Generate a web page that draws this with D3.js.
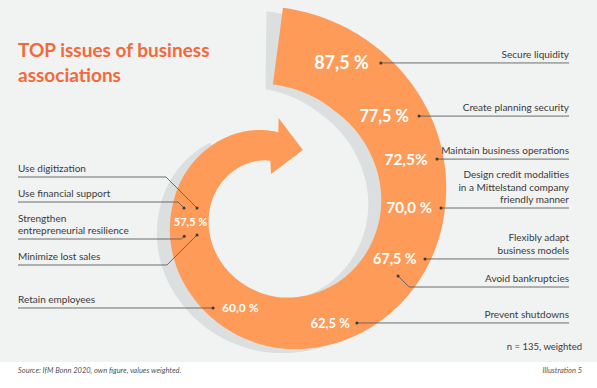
<!DOCTYPE html>
<html>
<head>
<meta charset="utf-8">
<script src="https://cdn.jsdelivr.net/npm/d3@7"></script>
<style>
  body { margin: 0; background: #fff; }
  text { font-family: Lato, "Open Sans", sans-serif; }
</style>
</head>
<body>
<script>
// issues in the order they sit along the spiral ("|" = line break)
var issues = [
  "Secure liquidity",
  "Create planning security",
  "Maintain business operations",
  "Design credit modalities|in a Mittelstand company|friendly manner",
  "Flexibly adapt|business models",
  "Avoid bankruptcies",
  "Prevent shutdowns",
  "Retain employees",
  "Use digitization",
  "Use financial support",
  "Strengthen|entrepreneurial resilience",
  "Minimize lost sales"
];
// share of associations naming the issue, in %
var shares = [87.5, 77.5, 72.5, 70.0, 67.5, 67.5, 62.5, 60.0, 57.5, 57.5, 57.5, 57.5];

var title = ["TOP issues of business", "associations"];
var note = "n = 135, weighted";
var source = "Source: IfM Bonn 2020, own figure, values weighted.";
var figNo = "Illustration 5";

// layout: where each leader line touches the spiral (degrees clockwise from 12 o'clock, radius)
var anchorAngle = [35.6, 57.1, 73, 90, 109, 119.3, 145.2, 212.6, 270, 270, 253, 251.4];
var anchorRadius = [178.4, 169.2, 167.3, 164, 156.5, 138.8, 140, 118.7, 80, 93, 97, 84.4];
// y of the label rule where it is not level with the anchor
var ruleY = [null, null, null, null, null, 287, null, null, 177, 202, 239, 265];

var width = 597, height = 388;
var svg = d3.select("body").append("svg")
    .attr("width", width)
    .attr("height", height);

svg.append("rect")
    .attr("width", width)
    .attr("height", 362)
    .attr("fill", "#f1f2f2");

// spiral geometry
var cx = 277, cy = 208;
var outerR = d3.scaleLinear()
    .domain([0, 45, 90, 135, 180, 225, 270, 315, 360])
    .range([201, 184, 168, 154, 140, 122, 105, 90, 76]);
var innerR = d3.scaleLinear()
    .domain([0, 30, 60, 90, 135, 180, 225, 270, 315, 360])
    .range([123, 113, 108, 104, 97, 89, 78, 67, 56, 46]);

function pt(theta, r) {
  var a = theta * Math.PI / 180;
  return [cx + r * Math.sin(a), cy - r * Math.cos(a)];
}

function spiral(o0, i0, o1, i1, arrow) {
  var outer = d3.range(o0, o1, 1).concat([o1]).map(t => pt(t, outerR(t)));
  var inner = d3.range(i0, i1, 1).concat([i1]).map(t => pt(t, innerR(t))).reverse();
  var head = arrow ? [pt(361, 90), pt(384, 63.6), pt(350, 34.5)] : [];
  return d3.line()(outer.concat(head, inner)) + "Z";
}

svg.append("path")
    .attr("d", spiral(0.7, 0.7, 322, 322, false))
    .attr("transform", "translate(-13,4)")
    .attr("fill", "#dcdfe0");

svg.append("path")
    .attr("d", spiral(1.7, -1.9, 361, 352, true))
    .attr("fill", "#fe9b58");

// title
svg.append("g").selectAll("text")
    .data(title)
    .join("text")
    .attr("x", 18)
    .attr("y", (d, i) => 57 + i * 25)
    .attr("fill", "#f26a3c")
    .attr("font-size", 19)
    .attr("font-weight", 700)
    .text(d => d);

// leader lines and labels
var items = issues.map((d, i) => {
  var p = pt(anchorAngle[i], anchorRadius[i]);
  return {
    lines: d.split("|"),
    value: shares[i],
    x: p[0], y: p[1],
    right: anchorAngle[i] < 180,
    rule: ruleY[i] == null ? p[1] : ruleY[i]
  };
});

var colRight = 569, colLeft = 18;

var leader = svg.append("g");
leader.selectAll("path")
    .data(items)
    .join("path")
    .attr("fill", "none")
    .attr("stroke", "#5e5e5e")
    .attr("stroke-width", 0.9)
    .attr("d", d => {
      var dy = Math.abs(d.rule - d.y);
      var ex = d.right ? d.x + dy : d.x - dy;
      var end = d.right ? colRight : colLeft;
      return d3.line()([[d.x, d.y], [ex, d.rule], [end, d.rule]]);
    });

leader.selectAll("circle")
    .data(items)
    .join("circle")
    .attr("cx", d => d.x)
    .attr("cy", d => d.y)
    .attr("r", 1.5)
    .attr("fill", "#3a3a3a");

var labels = svg.append("g")
    .selectAll("text")
    .data(items)
    .join("text")
    .attr("x", d => d.right ? colRight : colLeft)
    .attr("text-anchor", d => d.right ? "end" : "start")
    .attr("font-size", 10)
    .attr("fill", "#3a3a3a");

labels.selectAll("tspan")
    .data(d => d.lines.map((l, j) => ({ l: l, y: d.rule - 5 - (d.lines.length - 1 - j) * 12.5 })))
    .join("tspan")
    .attr("x", function() { return this.parentNode.getAttribute("x"); })
    .attr("y", d => d.y)
    .text(d => d.l);

// value labels on the spiral, one per distinct share
var de = d3.formatLocale({ decimal: ",", thousands: ".", grouping: [3], currency: ["", "€"] });
var fmt = de.format(".1f");
var tight = new Set(["Maintain business operations"]);
var fontSize = d3.scaleLinear().domain([57.5, 62.5, 70, 87.5]).range([11, 13, 15, 18]);

var groups = d3.groups(items.map((d, i) => Object.assign({ name: issues[i] }, d)), d => d.value);
var valueLabels = groups.map(([v, g]) => {
  var first = g[0];
  var fs = fontSize(v);
  var gap = fs - 6;
  var lab = { v: v, text: fmt(v) + (tight.has(first.name) ? "%" : " %") };
  if (g.length > 2) {
    lab.x = d3.mean(g, d => d.x); lab.y = d3.mean(g, d => d.y); lab.anchor = "middle";
  } else if (first.right) {
    lab.x = first.x - gap; lab.y = first.y; lab.anchor = "end";
  } else {
    lab.x = first.x + 9; lab.y = first.y; lab.anchor = "start";
  }
  return lab;
});

svg.append("g").selectAll("text")
    .data(valueLabels)
    .join("text")
    .attr("x", d => d.x)
    .attr("y", d => d.y)
    .attr("dy", "0.36em")
    .attr("text-anchor", d => d.anchor)
    .attr("font-size", d => fontSize(d.v))
    .attr("font-weight", 700)
    .attr("fill", "#fff")
    .text(d => d.text);

svg.append("text")
    .attr("x", 582)
    .attr("y", 350)
    .attr("text-anchor", "end")
    .attr("font-size", 9.5)
    .attr("fill", "#3a3a3a")
    .text(note);

svg.append("text")
    .attr("x", 18)
    .attr("y", 373)
    .attr("font-size", 7.5)
    .attr("font-style", "italic")
    .attr("fill", "#555")
    .text(source);

svg.append("text")
    .attr("x", 582)
    .attr("y", 373)
    .attr("text-anchor", "end")
    .attr("font-size", 7.5)
    .attr("font-style", "italic")
    .attr("fill", "#555")
    .text(figNo);
</script>
</body>
</html>
